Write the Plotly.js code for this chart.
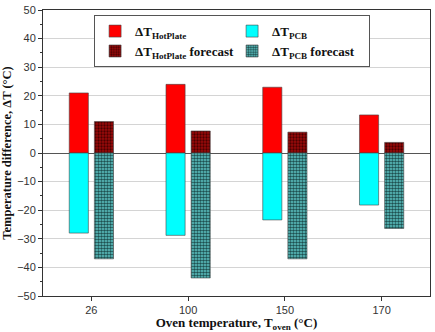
<!DOCTYPE html>
<html><head><meta charset="utf-8">
<script src="https://cdn.plot.ly/plotly-3.0.1.min.js"></script>
<style>html,body{margin:0;padding:0;background:#fff}</style>
</head><body><div id="chart" style="width:435px;height:332px"></div>
<script>
const categories = ['26', '100', '150', '170'];
const dtHotPlate = [21, 24, 23, 13.3];
const dtHotPlateForecast = [11, 7.7, 7.3, 3.7];
const dtPCB = [-28, -28.8, -23.4, -18.2];
const dtPCBForecast = [-37, -43.7, -37, -26.4];
const names = ['ΔT<sub>HotPlate</sub>', 'ΔT<sub>PCB</sub>', 'ΔT<sub>HotPlate</sub> forecast', 'ΔT<sub>PCB</sub> forecast'];

const edge = {color: '#444', width: 0.6};
const traces = [
  {type: 'bar', x: categories, y: dtHotPlate, name: names[0], offsetgroup: 'a',
   marker: {color: '#ff0000', line: edge}},
  {type: 'bar', x: categories, y: dtPCB, name: names[1], offsetgroup: 'a',
   marker: {color: '#00ffff', line: edge}},
  {type: 'bar', x: categories, y: dtHotPlateForecast, name: names[2], offsetgroup: 'b',
   marker: {color: '#8b0000', line: edge,
     pattern: {shape: '.', bgcolor: '#9a0a0a', fgcolor: '#4a0000', size: 3, solidity: 0.45, fillmode: 'replace'}}},
  {type: 'bar', x: categories, y: dtPCBForecast, name: names[3], offsetgroup: 'b',
   marker: {color: '#2f7f7f', line: edge,
     pattern: {shape: '.', bgcolor: '#5fcaca', fgcolor: '#1f5050', size: 3, solidity: 0.55, fillmode: 'replace'}}}
];

const layout = {
  width: 435, height: 332,
  margin: {l: 43, r: 5, t: 10, b: 36},
  paper_bgcolor: '#fff', plot_bgcolor: '#fff',
  barmode: 'group', bargap: 0.48, bargroupgap: 0.24,
  font: {family: 'Liberation Sans, Arial', size: 11, color: '#333'},
  xaxis: {
    type: 'category', ticks: 'outside', ticklen: 4, tickcolor: '#333',
    showline: true, linecolor: '#333', linewidth: 1, mirror: true,
    showgrid: false, tickfont: {size: 11, color: '#333'},
    title: {text: 'Oven temperature, T<sub>oven</sub> (°C)', standoff: 1,
      font: {family: 'Liberation Serif, Times New Roman', size: 13, color: '#111', weight: 'bold'}}
  },
  yaxis: {
    range: [-50, 50], dtick: 10, ticks: 'outside', ticklen: 4, tickcolor: '#333',
    minor: {dtick: 5, ticks: 'outside', ticklen: 2, tickcolor: '#333', showgrid: false},
    showline: true, linecolor: '#333', linewidth: 1, mirror: true,
    showgrid: true, gridcolor: '#d4d4d4', gridwidth: 1,
    zeroline: true, zerolinecolor: '#555', zerolinewidth: 1,
    tickfont: {size: 11, color: '#333'},
    title: {text: 'Temperature difference, ΔT (°C)', standoff: 6,
      font: {family: 'Liberation Serif, Times New Roman', size: 12.5, color: '#111', weight: 'bold'}}
  },
  showlegend: true,
  legend: {
    orientation: 'h', x: 0.132, y: 0.982, xanchor: 'left', yanchor: 'top',
    entrywidth: 92, entrywidthmode: 'pixels', traceorder: 'normal',
    bgcolor: '#fff', bordercolor: '#555', borderwidth: 1,
    font: {family: 'Liberation Serif, Times New Roman', size: 13, color: '#111', weight: 'bold'},
    itemwidth: 30, tracegroupgap: 0
  }
};

Plotly.newPlot('chart', traces, layout, {displayModeBar: false, staticPlot: true});
</script></body></html>
